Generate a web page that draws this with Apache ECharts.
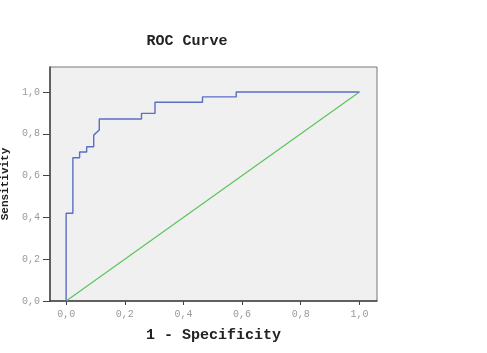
<!DOCTYPE html>
<html>
<head>
<meta charset="utf-8">
<script src="https://cdn.jsdelivr.net/npm/echarts@6/dist/echarts.min.js"></script>
<style>
  html, body { margin: 0; padding: 0; background: #fff; }
  #chart { width: 487px; height: 353px; }
</style>
</head>
<body>
<div id="chart"></div>
<script>
// ROC curve corners (1 - specificity, sensitivity)
var rocFpr = [0, 0, 0.023, 0.023, 0.046, 0.046, 0.070, 0.070, 0.094, 0.094, 0.113, 0.113,
  0.257, 0.257, 0.303, 0.303, 0.465, 0.465, 0.58, 0.58, 1.0]
var rocTpr = [0, 0.42, 0.42, 0.686, 0.686, 0.713, 0.713, 0.738, 0.738, 0.794, 0.818, 0.871,
  0.871, 0.898, 0.898, 0.951, 0.951, 0.977, 0.977, 1.0, 1.0]
// reference line
var refX = [0, 1]
var refY = [0, 1]
var tickValues = [0, 0.2, 0.4, 0.6, 0.8, 1.0]

var mono = 'Liberation Mono'
var fmt = function(v) {
  return v.toFixed(1).replace('.', ',')
}

var chart = echarts.init(document.getElementById('chart'))
chart.setOption({
  backgroundColor: '#fff',
  animation: false,
  title: {
    text: 'ROC Curve',
    left: 182,
    top: 29,
    textAlign: 'center',
    textStyle: { fontFamily: mono, fontWeight: 'bold', fontSize: 15, color: '#222' }
  },
  grid: {
    left: 50,
    right: 110,
    top: 67,
    bottom: 52,
    outerBoundsMode: 'none',
    containLabel: false,
    show: true,
    backgroundColor: '#f0f0f0',
    borderColor: '#777',
    borderWidth: 1
  },
  xAxis: {
    type: 'value',
    min: -0.055,
    max: 1.06,
    name: '1 - Specificity',
    nameLocation: 'middle',
    nameGap: 27,
    nameTextStyle: { fontFamily: mono, fontWeight: 'bold', fontSize: 15, color: '#222' },
    axisLine: { onZero: false, lineStyle: { color: '#444', width: 1.5 } },
    axisTick: { show: true, length: 4, customValues: tickValues, lineStyle: { color: '#444' } },
    axisLabel: {
      customValues: tickValues,
      formatter: fmt,
      fontFamily: mono,
      fontSize: 10,
      color: '#999',
      margin: 8
    },
    splitLine: { show: false }
  },
  yAxis: {
    type: 'value',
    min: 0,
    max: 1.12,
    name: 'Sensitivity',
    nameLocation: 'middle',
    nameGap: 34,
    nameTextStyle: { fontFamily: mono, fontWeight: 'bold', fontSize: 11, color: '#222' },
    axisLine: { show: true, onZero: false, lineStyle: { color: '#444', width: 1.5 } },
    axisTick: { show: true, length: 7, customValues: tickValues, lineStyle: { color: '#444' } },
    axisLabel: {
      customValues: tickValues,
      formatter: fmt,
      fontFamily: mono,
      fontSize: 10,
      color: '#999',
      margin: 10
    },
    splitLine: { show: false }
  },
  series: [{
    type: 'line',
    data: refX.map(function(x, i) { return [x, refY[i]] }),
    symbol: 'none',
    lineStyle: { color: '#5cc45c', width: 1.2 },
    z: 2
  }, {
    type: 'line',
    data: rocFpr.map(function(x, i) { return [x, rocTpr[i]] }),
    symbol: 'none',
    lineStyle: { color: '#5a6ec6', width: 1.4 },
    z: 3
  }]
})
</script>
</body>
</html>
